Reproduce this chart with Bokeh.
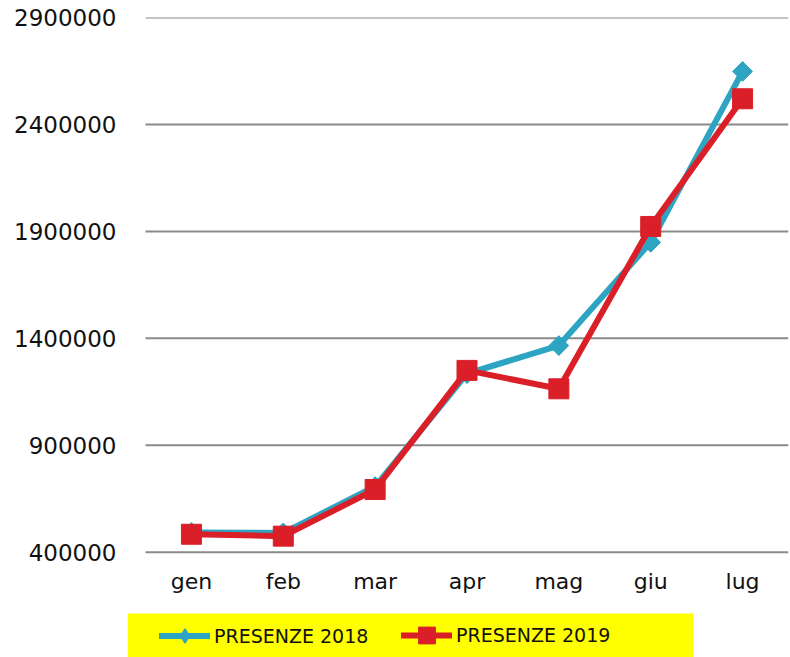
import math
from bokeh.plotting import figure
from bokeh.models import (Range1d, FixedTicker, NumeralTickFormatter,
                          Legend, LegendItem, BoxAnnotation)
from bokeh.embed import file_html
from bokeh.resources import INLINE

months = ["gen", "feb", "mar", "apr", "mag", "giu", "lug"]
presenze_2018 = [492000, 490000, 707000, 1235000, 1366000, 1849000, 2648000]
presenze_2019 = [484000, 475000, 693000, 1250000, 1164000, 1923000, 2520000]
y_ticks = [400000, 900000, 1400000, 1900000, 2400000, 2900000]
label_2018 = "PRESENZE 2018"
label_2019 = "PRESENZE 2019"

x_pos = list(range(len(months)))

BLUE = "#2DA4C1"
RED = "#DB1F28"
FONT = "DejaVu Sans"

p = figure(width=790, height=657,
           x_range=Range1d(-0.696, 6.5),
           y_range=Range1d(-92300, 2900000),
           output_backend="svg", toolbar_location=None,
           min_border_left=127, min_border_right=2,
           min_border_top=17, min_border_bottom=0)

p.outline_line_color = None
p.background_fill_color = "white"

# y axis
p.yaxis.ticker = FixedTicker(ticks=y_ticks)
p.yaxis.formatter = NumeralTickFormatter(format="0")
p.yaxis.axis_line_color = None
p.yaxis.major_tick_line_color = None
p.yaxis.minor_tick_line_color = None
p.yaxis.major_label_standoff = 5
p.yaxis.major_label_text_font = FONT
p.yaxis.major_label_text_font_size = "23px"
p.yaxis.major_label_text_color = "#111111"

# x axis (category labels) sitting on the 400000 line
p.xaxis.ticker = FixedTicker(ticks=x_pos)
p.xaxis.major_label_overrides = {i: m for i, m in zip(x_pos, months)}
p.xaxis.fixed_location = y_ticks[0]
p.xaxis.axis_line_color = None
p.xaxis.major_tick_line_color = None
p.xaxis.minor_tick_line_color = None
p.xaxis.major_label_standoff = 11
p.xaxis.major_label_text_font = FONT
p.xaxis.major_label_text_font_size = "22px"
p.xaxis.major_label_text_color = "#111111"

# horizontal grid lines spanning the category area only
p.grid.grid_line_color = None
n = len(y_ticks)
p.segment(x0=[x_pos[0] - 0.5] * n, x1=[x_pos[-1] + 0.5] * n, y0=y_ticks, y1=y_ticks,
          line_color="#8A8A8A", line_width=2)

# series
l18 = p.line(x_pos, presenze_2018, line_width=6, color=BLUE, line_join="round", line_cap="round")
d18 = p.scatter(x_pos, presenze_2018, marker="diamond", size=19, color=BLUE)  # hidden under s18, used for legend
s18 = p.scatter(x_pos, presenze_2018, marker="square", angle=math.pi / 4, size=14, color=BLUE)
l19 = p.line(x_pos, presenze_2019, line_width=6, color=RED, line_join="round", line_cap="round")
s19 = p.scatter(x_pos, presenze_2019, marker="square", size=20, color=RED)

# yellow legend background
box = BoxAnnotation(right=5.466, top=113400,
                    fill_color="#FFFF00", fill_alpha=1.0, line_color=None)
p.add_layout(box)

common = dict(padding=0, margin=0, background_fill_alpha=0, border_line_color=None,
              label_text_font=FONT, label_text_font_size="19px",
              label_text_color="#111111", label_standoff=4, glyph_width=51)

leg_a = Legend(items=[LegendItem(label=label_2018, renderers=[l18, d18])],
               location=(32, 3), glyph_height=37, **common)
leg_b = Legend(items=[LegendItem(label=label_2019, renderers=[l19, s19])],
               location=(274, 1), glyph_height=42, **common)
p.add_layout(leg_a)
p.add_layout(leg_b)

open("out.html", "w").write(file_html(p, INLINE))
